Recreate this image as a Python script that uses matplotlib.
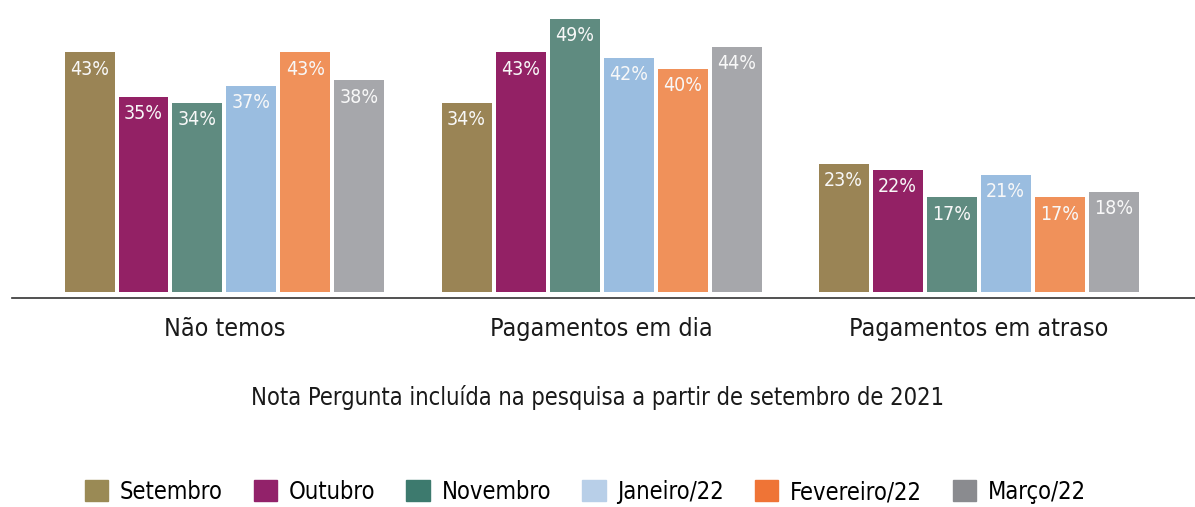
import numpy as np
import matplotlib.pyplot as plt
from matplotlib import font_manager
from matplotlib.patches import Patch

categories = ["Não temos", "Pagamentos em dia", "Pagamentos em atraso"]
months = ["Setembro", "Outubro", "Novembro", "Janeiro/22", "Fevereiro/22", "Março/22"]
setembro = [43, 34, 23]
outubro = [35, 43, 22]
novembro = [34, 49, 17]
janeiro = [37, 42, 21]
fevereiro = [43, 40, 17]
marco = [38, 44, 18]
series = [setembro, outubro, novembro, janeiro, fevereiro, marco]

bar_colors = ["#9a8455", "#932165", "#5f8b80", "#9abde0", "#f0915a", "#a6a7ab"]
legend_colors = ["#9a8a55", "#92226a", "#3d7a6e", "#b8cfe8", "#ef7436", "#8a8b8f"]

# use a condensed face if one is installed
condensed = any(f.name == 'DejaVu Sans' and f.stretch == 'condensed'
                for f in font_manager.fontManager.ttflist)
plt.rcParams['font.family'] = ['DejaVu Sans']
if condensed:
    plt.rcParams['font.stretch'] = 'condensed'
k = 1.0 if condensed else 0.9

fig = plt.figure(figsize=(11.95, 5.07), dpi=100)
ax = fig.add_axes([0.01, 0.412, 0.99, 0.568])

x = np.arange(len(categories))
width = 0.1326
pitch = 0.1432
for i, vals in enumerate(series):
    pos = x + (i - 2.5) * pitch
    bars = ax.bar(pos, vals, width, color=bar_colors[i])
    for b, v in zip(bars, vals):
        ax.text(b.get_x() + b.get_width() / 2, v - 1.3, f"{v}%", ha='center', va='top',
                color='#f8f8f8', fontsize=14 * k)

ax.set_xlim(-0.5637, 2.574)
ax.set_ylim(-1.08, 50.6)
ax.set_yticks([])
ax.set_xticks([])
for s in ['top', 'right', 'left']:
    ax.spines[s].set_visible(False)
ax.spines['bottom'].set_color('#333333')
ax.spines['bottom'].set_linewidth(1.2)

for xi, c in zip(x, categories):
    ax.text(xi, -6.6, c, ha='center', va='center', fontsize=18 * k, color='#1a1a1a')

fig.text(0.5, 1 - 398 / 507, "Nota Pergunta incluída na pesquisa a partir de setembro de 2021",
         ha='center', va='center', fontsize=17 * k, color='#1a1a1a')

handles = [Patch(color=c) for c in legend_colors]
fig.legend(handles, months, loc='center', bbox_to_anchor=(0.49, 1 - 492 / 507), ncol=6,
           frameon=False, fontsize=17 * k, handlelength=1.0, handleheight=1.0,
           columnspacing=1.3, handletextpad=0.5)

fig.savefig("out.png", dpi=100)
